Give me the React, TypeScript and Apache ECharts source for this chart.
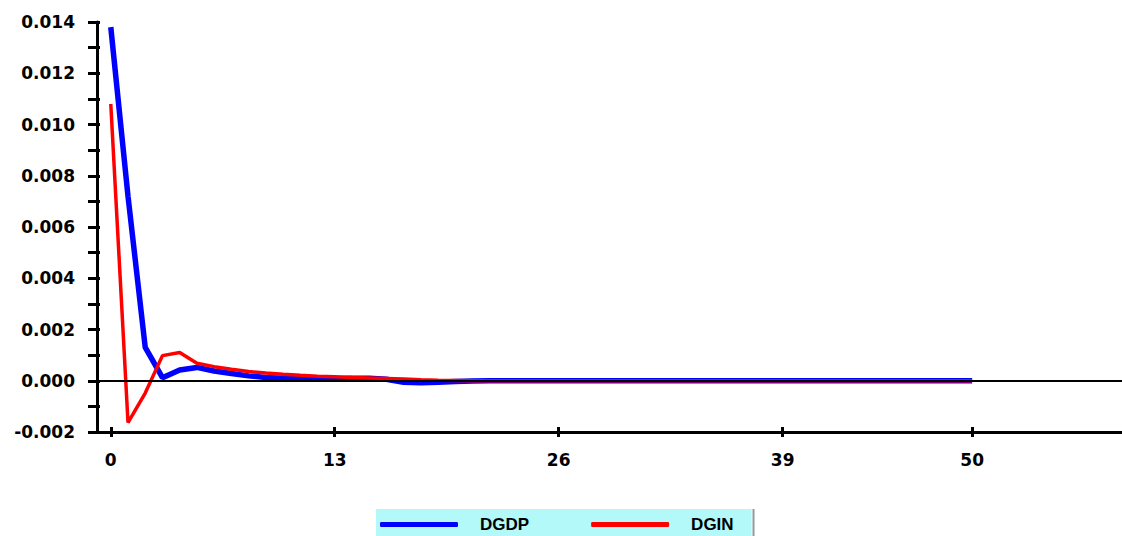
import React, { useEffect, useRef } from "react";
import * as echarts from "echarts";

const periods: number[] = Array.from({ length: 51 }, (_, i) => i);

const dgdp: number[] = [
  0.0138, 0.0072, 0.0013, 0.00012, 0.00042, 0.00052, 0.00038, 0.00028, 0.00019, 0.00013,
  0.0001, 0.00008, 0.00007, 0.00008, 0.0001, 0.0001, 0.00006, -0.00006, -0.00008, -0.00006,
  -0.00003, -0.00001, 0, 0, 0, 0, 0, 0, 0, 0,
  0, 0, 0, 0, 0, 0, 0, 0, 0, 0,
  0, 0, 0, 0, 0, 0, 0, 0, 0, 0,
  0,
];

const dgin: number[] = [
  0.0108, -0.00163, -0.00048, 0.00098, 0.0011, 0.00068, 0.00055, 0.00045, 0.00036, 0.0003,
  0.00025, 0.00021, 0.00018, 0.00016, 0.00013, 0.00011, 0.00009, 0.00007, 0.00004, 0.00002,
  0.00001, 0, 0, 0, 0, 0, 0, 0, 0, 0,
  0, 0, 0, 0, 0, 0, 0, 0, 0, 0,
  0, 0, 0, 0, 0, 0, 0, 0, 0, 0,
  0,
];

const xTicks: number[] = [0, 13, 26, 39, 50];
const seriesNames: string[] = ["DGDP", "DGIN"];

export default function App() {
  const ref = useRef<HTMLDivElement>(null);
  useEffect(() => {
    if (!ref.current) return;
    const chart = echarts.init(ref.current, null, { renderer: "svg" });
    const labelFont = {
      fontFamily: "DejaVu Sans",
      fontWeight: "bold" as const,
      fontSize: 17,
      color: "#000",
    };
    const xMin = -0.8;
    const xMax = 58.7;
    chart.setOption({
      animation: false,
      backgroundColor: "#fff",
      grid: { left: 97, top: 22, width: 1025, height: 410, containLabel: false },
      legend: {
        data: seriesNames,
        left: 376,
        top: 509,
        backgroundColor: "#b3f9f9",
        borderWidth: 0,
        padding: [7, 18, 20, 4],
        itemWidth: 78,
        itemHeight: 5,
        itemGap: 62,
        icon: "roundRect",
        textStyle: {
          fontFamily: "Liberation Sans",
          fontWeight: "bold",
          fontSize: 17,
          color: "#000",
          padding: [0, 0, 0, 17],
        },
      },
      xAxis: [
        {
          type: "value",
          min: xMin,
          max: xMax,
          position: "bottom",
          axisLine: { show: true, onZero: false, lineStyle: { color: "#000", width: 3 } },
          axisTick: {
            show: true,
            customValues: xTicks,
            length: 5,
            lineStyle: { color: "#000", width: 3 },
          },
          axisLabel: { show: true, customValues: xTicks, margin: 19, ...labelFont },
          splitLine: { show: false },
        },
        {
          type: "value",
          min: xMin,
          max: xMax,
          position: "bottom",
          axisLine: { show: false, onZero: false },
          axisTick: {
            show: true,
            inside: true,
            customValues: xTicks,
            length: 5,
            lineStyle: { color: "#000", width: 3 },
          },
          axisLabel: { show: false },
          splitLine: { show: false },
        },
      ],
      yAxis: [
        {
          type: "value",
          min: -0.002,
          max: 0.014,
          interval: 0.002,
          position: "left",
          axisLine: { show: true, onZero: false, lineStyle: { color: "#000", width: 3 } },
          axisTick: { show: true, length: 9, lineStyle: { color: "#000", width: 3 } },
          minorTick: { show: true, splitNumber: 2, length: 9, lineStyle: { color: "#000", width: 3 } },
          axisLabel: {
            margin: 22,
            formatter: (v: number) => v.toFixed(3),
            ...labelFont,
          },
          splitLine: { show: false },
        },
        {
          type: "value",
          min: -0.002,
          max: 0.014,
          interval: 0.002,
          position: "left",
          axisLine: { show: false, onZero: false },
          axisTick: { show: true, inside: true, length: 3, lineStyle: { color: "#000", width: 3 } },
          minorTick: { show: true, splitNumber: 2, length: 3, lineStyle: { color: "#000", width: 3 } },
          axisLabel: { show: false },
          splitLine: { show: false },
        },
      ],
      series: [
        {
          name: seriesNames[0],
          type: "line",
          data: periods.map((p, i) => [p, dgdp[i]]),
          showSymbol: false,
          symbol: "none",
          lineStyle: { color: "#0000ff", width: 5.5 },
          itemStyle: { color: "#0000ff" },
        },
        {
          name: seriesNames[1],
          type: "line",
          data: periods.map((p, i) => [p, dgin[i]]),
          showSymbol: false,
          symbol: "none",
          lineStyle: { color: "#ff0000", width: 3.5 },
          itemStyle: { color: "#ff0000" },
          markLine: {
            silent: true,
            symbol: "none",
            label: { show: false },
            lineStyle: { color: "#000", width: 2, type: "solid" },
            data: [{ yAxis: 0 }],
            z: 10,
          },
        },
      ],
      graphic: [
        {
          type: "line",
          shape: { x1: 753.5, y1: 509, x2: 753.5, y2: 536 },
          style: { stroke: "#8a9c9c", lineWidth: 2 },
        },
      ],
    });
    return () => chart.dispose();
  }, []);
  return (
    <div
      ref={ref}
      style={{ position: "fixed", left: 0, top: 0, width: 1122, height: 536 }}
    />
  );
}
